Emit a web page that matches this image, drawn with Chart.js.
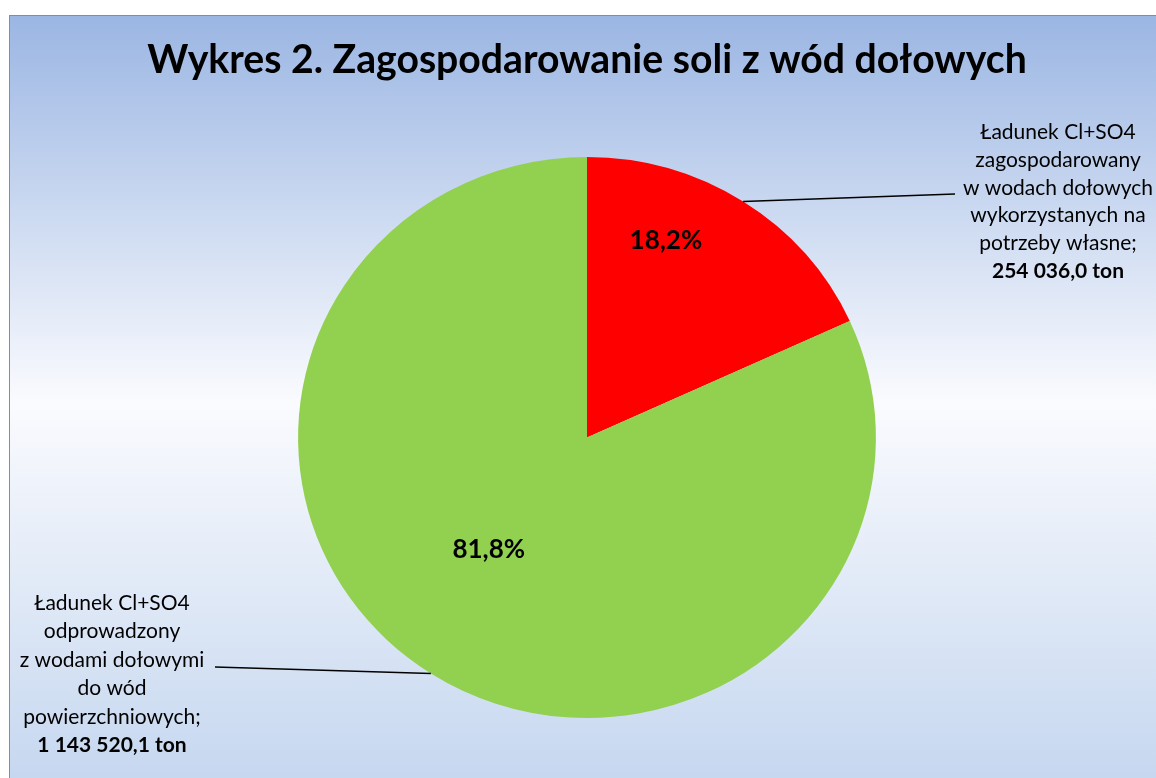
<!DOCTYPE html>
<html>
<head>
<meta charset="utf-8">
<script src="https://cdn.jsdelivr.net/npm/chart.js@4.4.1/dist/chart.umd.min.js"></script>
<style>
html,body{margin:0;padding:0;background:#fff;}
#wrap{position:absolute;left:0;top:0;width:1156px;height:778px;}
</style>
</head>
<body>
<div id="wrap"><canvas id="c" width="1156" height="778"></canvas></div>
<script>
const titleText = 'Wykres 2. Zagospodarowanie soli z wód dołowych';
const categories = [
  ['Ładunek Cl+SO4', 'zagospodarowany', 'w wodach dołowych', 'wykorzystanych na', 'potrzeby własne;'],
  ['Ładunek Cl+SO4', 'odprowadzony', 'z wodami dołowymi', 'do wód', 'powierzchniowych;']
];
const values = [254036.0, 1143520.1];
const sliceColors = ['#FF0000', '#92D050'];

const FONT = 'Lato, "Open Sans", sans-serif';

function fmtTon(v) {
  const parts = v.toFixed(1).split('.');
  const int = parts[0].replace(/\B(?=(\d{3})+(?!\d))/g, ' ');
  return int + ',' + parts[1] + ' ton';
}
function fmtPct(v, total) {
  return (v / total * 100).toFixed(1).replace('.', ',') + '%';
}

const H_SCALE = 1.03;

const bgPlugin = {
  id: 'bg',
  beforeDraw(chart) {
    const ctx = chart.ctx;
    ctx.save();
    ctx.fillStyle = '#ffffff';
    ctx.fillRect(0, 0, chart.width, chart.height);
    const x0 = 9.5, y0 = 15.5, x1 = 1170, y1 = 790;
    const g = ctx.createLinearGradient(0, y0, 0, y1);
    g.addColorStop(0, '#9bb6e3');
    g.addColorStop(0.5, '#fafbfe');
    g.addColorStop(1, '#c4d6ef');
    ctx.fillStyle = g;
    ctx.fillRect(x0, y0, x1 - x0, y1 - y0);
    ctx.strokeStyle = '#8c8c8c';
    ctx.lineWidth = 1;
    ctx.strokeRect(x0, y0, x1 - x0, y1 - y0);

    // title, sized to the reference's span
    ctx.fillStyle = '#000';
    ctx.textAlign = 'center';
    ctx.textBaseline = 'alphabetic';
    ctx.font = 'bold 36px ' + FONT;
    const w = ctx.measureText(titleText).width;
    const size = 36 * 880 / w;
    ctx.font = 'bold ' + size.toFixed(2) + 'px ' + FONT;
    ctx.fillText(titleText, 587, 73);
    ctx.restore();
  },
  beforeDatasetsDraw(chart) {
    const arc = chart.getDatasetMeta(0).data[0];
    const ctx = chart.ctx;
    ctx.save();
    ctx.translate(arc.x, arc.y);
    ctx.scale(H_SCALE, 1);
    ctx.translate(-arc.x, -arc.y);
  },
  afterDatasetsDraw(chart) {
    chart.ctx.restore();
    const ctx = chart.ctx;
    const meta = chart.getDatasetMeta(0);
    const total = values.reduce((a, b) => a + b, 0);
    const cx = meta.data[0].x, cy = meta.data[0].y, r = meta.data[0].outerRadius;

    // percentage labels (offsets relative to radius)
    const pctPos = [[0.273, -0.672], [-0.34, 0.43]];
    ctx.save();
    ctx.fillStyle = '#000';
    ctx.font = 'bold 26px ' + FONT;
    ctx.textAlign = 'center';
    ctx.textBaseline = 'alphabetic';
    values.forEach((v, i) => {
      ctx.fillText(fmtPct(v, total), cx + pctPos[i][0] * r * H_SCALE, cy + pctPos[i][1] * r);
    });

    // leader lines from slice mid-angle on the edge
    const ends = [[955, 194], [215, 667]];
    ctx.strokeStyle = '#000';
    ctx.lineWidth = 1.5;
    meta.data.forEach((a, i) => {
      const mid = (a.startAngle + a.endAngle) / 2;
      const sx = cx + Math.cos(mid) * r * H_SCALE;
      const sy = cy + Math.sin(mid) * r;
      ctx.beginPath();
      ctx.moveTo(sx, sy);
      ctx.lineTo(ends[i][0], ends[i][1]);
      ctx.stroke();
    });

    // category labels
    const labelPos = [[1058, 139, 27.8], [112, 610, 28.4]];
    categories.forEach((lines, i) => {
      const [lx, ly, lh] = labelPos[i];
      ctx.font = '21px ' + FONT;
      lines.forEach((t, j) => ctx.fillText(t, lx, ly + j * lh));
      ctx.font = 'bold 21px ' + FONT;
      ctx.fillText(fmtTon(values[i]), lx, ly + lines.length * lh);
    });
    ctx.restore();
  }
};

new Chart(document.getElementById('c'), {
  type: 'pie',
  data: {
    labels: categories.map(c => c.join(' ')),
    datasets: [{
      data: values,
      backgroundColor: sliceColors,
      borderWidth: 0
    }]
  },
  options: {
    responsive: false,
    animation: false,
    layout: { padding: { left: 306.5, right: 288.5, top: 157, bottom: 60 } },
    plugins: {
      legend: { display: false },
      tooltip: { enabled: false },
      title: { display: false }
    }
  },
  plugins: [bgPlugin]
});
</script>
</body>
</html>
